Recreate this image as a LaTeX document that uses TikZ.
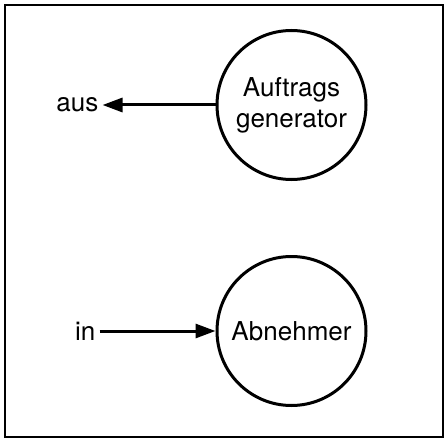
\documentclass[tikz,border=0pt]{standalone}
\usepackage{fontspec}
\setmainfont{TeX Gyre Heros}
\usetikzlibrary{arrows.meta,positioning}

\begin{document}
\begin{tikzpicture}[
  x=1pt, y=1pt,
  node distance=74pt,
  every node/.style={font=\fontsize{26}{31}\selectfont},
  proc/.style={draw, circle, line width=3pt, minimum size=149pt,
    inner sep=0pt, align=center},
  port/.style={inner sep=4pt},
  flow/.style={-{Triangle[length=20pt,width=14pt]}, line width=3pt}
]
\useasboundingbox (0,0) rectangle (444,-441);
% outer frame
\draw[line width=1.5pt] (5,-5) rectangle (443,-437);

\node[proc] (gen) at (291.5,-105) {Auftrags\\generator};
\node[proc, below=of gen] (abn) {Abnehmer};
\node[port, left=113pt of gen] (aus) {aus};
\node[port, left=116pt of abn] (in) {in};

\draw[flow] (gen) -- (aus);
\draw[flow] (in) -- (abn);
\end{tikzpicture}
\end{document}
